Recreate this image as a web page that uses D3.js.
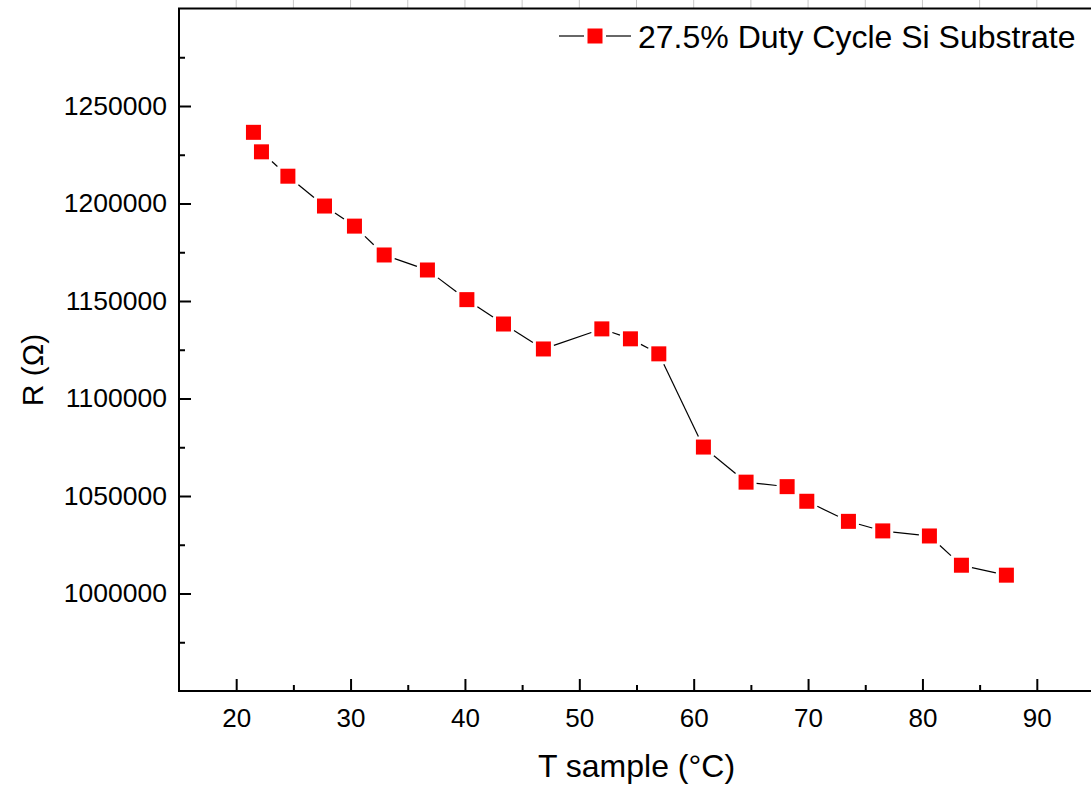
<!DOCTYPE html>
<html>
<head>
<meta charset="utf-8">
<script src="https://cdn.jsdelivr.net/npm/d3@7"></script>
<style>
  html, body { margin: 0; padding: 0; background: #fff; }
  svg { display: block; }
  text { font-family: Arial, "Liberation Sans", sans-serif; fill: #000; }
</style>
</head>
<body>
<svg id="chart" width="1091" height="790"></svg>
<script>
// Sample temperature (°C) and measured resistance (Ω)
const temperature = [21.51, 22.21, 24.52, 27.72, 30.34, 32.94, 36.72, 40.17, 43.37, 46.86,
                     51.97, 54.47, 56.95, 60.85, 64.58, 68.17, 69.89, 73.53, 76.53, 80.61,
                     83.41, 87.34];
const resistance = [1236500, 1226500, 1214000, 1198700, 1188400, 1173600, 1165900, 1150700,
                    1138200, 1125400, 1135700, 1130600, 1122900, 1075100, 1057100, 1054800,
                    1047300, 1037000, 1032100, 1029500, 1014500, 1009400];
const seriesName = "27.5% Duty Cycle Si Substrate";

const xMajorTicks = [20, 30, 40, 50, 60, 70, 80, 90];
const xMinorTicks = [25, 35, 45, 55, 65, 75, 85];
const yMajorTicks = [1000000, 1050000, 1100000, 1150000, 1200000, 1250000];
const yMinorTicks = [975000, 1025000, 1075000, 1125000, 1175000, 1225000, 1275000];
const xTitle = "T sample (°C)";
const yTitle = "R (Ω)";

const svg = d3.select("#chart");
const plotLeft = 179, plotRight = 1094, plotTop = 8.5, plotBottom = 691;

const x = d3.scaleLinear().domain([15, 95]).range([plotLeft, plotRight]);
const y = d3.scaleLinear().domain([950000, 1300000]).range([plotBottom, plotTop]);

const data = temperature.map((t, i) => ({ t, r: resistance[i] }));
const MARK = 15;      // marker side
const GAP = 3;        // clearance between connecting line and marker

// Faint ticks above the top frame line
svg.append("g").selectAll("line")
  .data(xMajorTicks.concat(xMinorTicks))
  .join("line")
  .attr("x1", d => x(d)).attr("x2", d => x(d))
  .attr("y1", 0).attr("y2", plotTop)
  .attr("stroke", "#c8c8c8").attr("stroke-width", 1);

// Frame
svg.append("rect")
  .attr("x", plotLeft).attr("y", plotTop)
  .attr("width", plotRight - plotLeft).attr("height", plotBottom - plotTop)
  .attr("fill", "none").attr("stroke", "#000").attr("stroke-width", 2);

// Bottom axis: inward ticks
const gx = svg.append("g").attr("transform", `translate(0,${plotBottom})`)
  .call(d3.axisBottom(x).tickValues(xMajorTicks).tickSize(-12).tickFormat(d3.format("d")));
gx.select(".domain").remove();
gx.selectAll(".tick line").attr("stroke-width", 2);
gx.selectAll(".tick text").attr("font-size", 26).attr("dy", 0).attr("y", 36);

const gxm = svg.append("g").attr("transform", `translate(0,${plotBottom})`)
  .call(d3.axisBottom(x).tickValues(xMinorTicks).tickSize(-6).tickFormat(""));
gxm.select(".domain").remove();
gxm.selectAll(".tick line").attr("stroke-width", 2);

// Left axis: inward ticks
const gy = svg.append("g").attr("transform", `translate(${plotLeft},0)`)
  .call(d3.axisLeft(y).tickValues(yMajorTicks).tickSize(-12).tickFormat(d3.format("d")));
gy.select(".domain").remove();
gy.selectAll(".tick line").attr("stroke-width", 2);
gy.selectAll(".tick text").attr("font-size", 26.5).attr("x", -12);

const gym = svg.append("g").attr("transform", `translate(${plotLeft},0)`)
  .call(d3.axisLeft(y).tickValues(yMinorTicks).tickSize(-6).tickFormat(""));
gym.select(".domain").remove();
gym.selectAll(".tick line").attr("stroke-width", 2);

// Axis titles
svg.append("text")
  .attr("x", (plotLeft + plotRight) / 2).attr("y", 777)
  .attr("text-anchor", "middle").attr("font-size", 32)
  .text(xTitle);
svg.append("text")
  .attr("transform", `translate(42.5,370) rotate(-90)`)
  .attr("text-anchor", "middle").attr("font-size", 30)
  .text(yTitle);

// Connecting segments, trimmed so they stop short of each marker
function trimmed(p, q, clear) {
  const dx = q[0] - p[0], dy = q[1] - p[1];
  const len = Math.hypot(dx, dy);
  const ux = dx / len, uy = dy / len;
  const cut = clear / Math.max(Math.abs(ux), Math.abs(uy));
  if (len <= 2 * cut) return null;
  return [[p[0] + ux * cut, p[1] + uy * cut], [q[0] - ux * cut, q[1] - uy * cut]];
}
const pts = data.map(d => [x(d.t), y(d.r)]);
const segs = d3.pairs(pts).map(([p, q]) => trimmed(p, q, MARK / 2 + GAP)).filter(Boolean);
svg.append("g").selectAll("line")
  .data(segs)
  .join("line")
  .attr("x1", d => d[0][0]).attr("y1", d => d[0][1])
  .attr("x2", d => d[1][0]).attr("y2", d => d[1][1])
  .attr("stroke", "#000").attr("stroke-width", 1.2);

// Square markers
svg.append("g").selectAll("rect")
  .data(data)
  .join("rect")
  .attr("x", d => x(d.t) - MARK / 2)
  .attr("y", d => y(d.r) - MARK / 2)
  .attr("width", MARK).attr("height", MARK)
  .attr("fill", "#ff0000");

// Legend
const lg = svg.append("g").attr("transform", "translate(595,36)");
lg.append("line").attr("x1", -36).attr("x2", -11).attr("y1", 0).attr("y2", 0)
  .attr("stroke", "#000").attr("stroke-width", 1.2);
lg.append("line").attr("x1", 11).attr("x2", 36).attr("y1", 0).attr("y2", 0)
  .attr("stroke", "#000").attr("stroke-width", 1.2);
lg.append("rect").attr("x", -7.5).attr("y", -7.5).attr("width", 15).attr("height", 15)
  .attr("fill", "#ff0000");
lg.append("text").attr("x", 43).attr("y", 12).attr("font-size", 32).text(seriesName);
</script>
</body>
</html>
